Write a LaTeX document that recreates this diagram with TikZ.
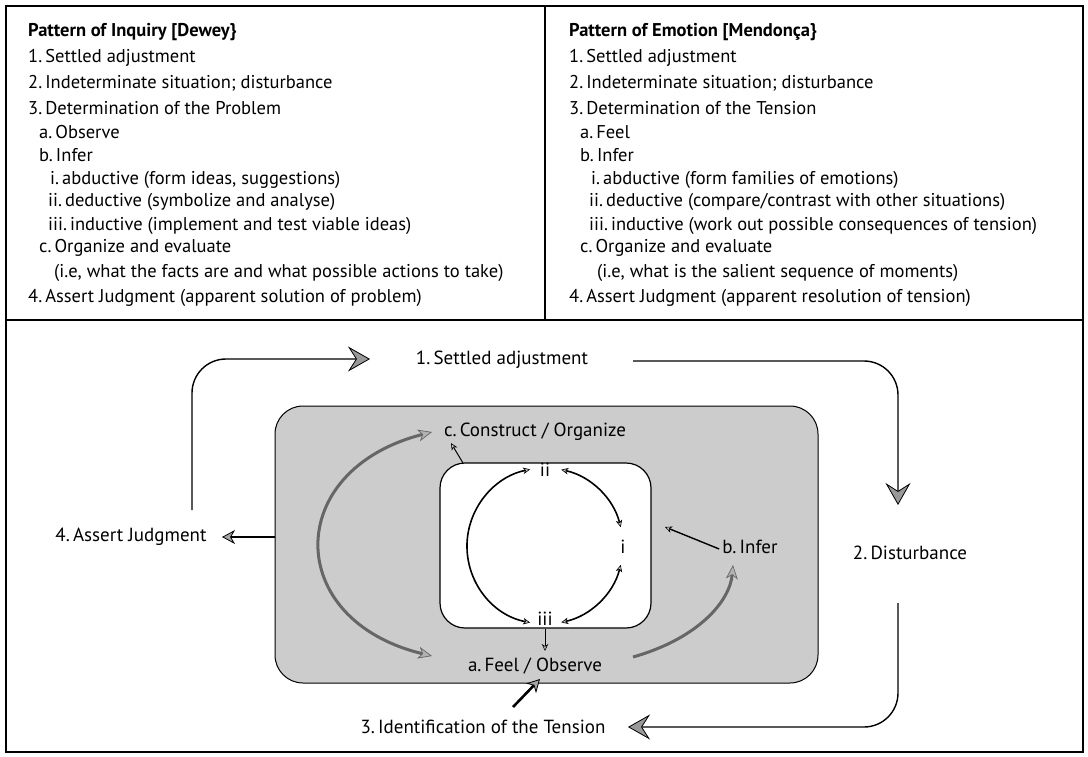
\documentclass[tikz,border=0pt]{standalone}
\usepackage{fontspec}
\setmainfont{PT Sans}
\usetikzlibrary{arrows.meta}
\begin{document}
\begin{tikzpicture}[x=1pt,y=-1pt,
  txt/.style={font=\fontsize{19}{22}\selectfont, inner sep=0pt},
  lt/.style={font=\fontsize{18.5}{22}\selectfont, inner sep=0pt, anchor=west},
  bt/.style={lt, font=\fontsize{18.5}{22}\selectfont\bfseries},
  frameline/.style={line width=1.2pt},
  loopline/.style={line width=1.4pt, rounded corners=34pt},
  bighead/.style={-{Stealth[length=22pt,width=25pt,inset=8pt,fill=black!40,line width=0.8pt]}},
  midhead/.style={-{Stealth[length=13pt,width=14pt,inset=4pt,fill=black!35,line width=0.8pt]}},
  smallboth/.style={{Stealth[length=7pt,width=6.5pt,inset=2pt,fill=black!25,line width=0.6pt]}-{Stealth[length=7pt,width=6.5pt,inset=2pt,fill=black!25,line width=0.6pt]}},
  smallend/.style={-{Stealth[length=7pt,width=6.5pt,inset=2pt,fill=black!25,line width=0.6pt]}},
  grayboth/.style={{Stealth[length=14pt,width=12pt,inset=4pt,fill=black!30,line width=0.7pt]}-{Stealth[length=14pt,width=12pt,inset=4pt,fill=black!30,line width=0.7pt]}},
  grayend/.style={-{Stealth[length=14pt,width=12pt,inset=4pt,fill=black!30,line width=0.7pt]}},
  grayarc/.style={line width=3pt, draw=black!60},
  shaded/.style={draw, line width=1pt, fill=black!20, rounded corners=28pt},
  whitebox/.style={draw, line width=1.2pt, fill=white, rounded corners=25pt}
]
\useasboundingbox (0,0) rectangle (1088,756);
% frame
\draw[frameline] (6,6) rectangle (1083,752);
\draw[frameline] (6,320) -- (1083,320);
\draw[frameline] (545,6) -- (545,320);

% left panel
\node[bt] (l0) at (28,32) {Pattern of Inquiry [Dewey\}};
\node[lt] (l1) at (28,58) {1.\,Settled adjustment};
\node[lt] (l2) at (28,83) {2.\,Indeterminate situation; disturbance};
\node[lt] (l3) at (28,108) {3.\,Determination of the Problem};
\node[lt] (l4) at (39,132) {a.\,Observe};
\node[lt] (l5) at (39,155) {b.\,Infer};
\node[lt] (l6) at (50,180) {i.\,abductive (form ideas, suggestions)};
\node[lt] (l7) at (48,202) {ii.\,deductive (symbolize and analyse)};
\node[lt] (l8) at (48,226) {iii.\,inductive (implement and test viable ideas)};
\node[lt] (l9) at (39,248) {c.\,Organize and evaluate};
\node[lt] (l10) at (54,273) {(i.e, what the facts are and what possible actions to take)};
\node[lt] (l11) at (28,298) {4.\,Assert Judgment (apparent solution of problem)};

% right panel
\node[bt] (r0) at (569,32) {Pattern of Emotion [Mendonça\}};
\node[lt] (r1) at (569,58) {1.\,Settled adjustment};
\node[lt] (r2) at (569,83) {2.\,Indeterminate situation; disturbance};
\node[lt] (r3) at (569,108) {3.\,Determination of the Tension};
\node[lt] (r4) at (580,132) {a.\,Feel};
\node[lt] (r5) at (580,155) {b.\,Infer};
\node[lt] (r6) at (591,180) {i.\,abductive (form families of emotions)};
\node[lt] (r7) at (589,202) {ii.\,deductive (compare/contrast with other situations)};
\node[lt] (r8) at (589,226) {iii.\,inductive (work out possible consequences of tension)};
\node[lt] (r9) at (580,248) {c.\,Organize and evaluate};
\node[lt] (r10) at (597,273) {(i.e, what is the salient sequence of moments)};
\node[lt] (r11) at (569,298) {4.\,Assert Judgment (apparent resolution of tension)};

% diagram boxes
\node[shaded, minimum width=543pt, minimum height=277pt] (outer) at (546.5,544.5) {};
\node[whitebox, minimum width=211pt, minimum height=165pt] (inner) at (545.5,545.5) {};

% labels
\node[txt] (set) at (502,360) {1.\,Settled adjustment};
\node[txt] (dist) at (910,553) {2.\,Disturbance};
\node[txt] (ident) at (483,727) {3.\,Identification of the Tension};
\node[txt] (assert) at (131,537) {4.\,Assert Judgment};
\node[txt] (cons) at (535,432) {c.\,Construct / Organize};
\node[txt] (feel) at (535,666) {a.\,Feel / Observe};
\node[txt] (infer) at (750,547) {b.\,Infer};
\node[txt] (ii) at (545,470) {ii};
\node[txt] (i) at (623,547) {i};
\node[txt] (iii) at (545,619) {iii};

% outer loop
\coordinate (tl) at (192,510);
\coordinate (tlend) at (370,359);
\coordinate (trstart) at (633,361);
\coordinate (trend) at (898,505);
\coordinate (brstart) at (898,603);
\coordinate (brend) at (628,727);
\draw[loopline, bighead] (tl) |- (tlend);
\draw[loopline, bighead] (trstart) -| (trend);
\draw[loopline, bighead] (brstart) |- (brend);

% assert arrow
\coordinate (aw) at (outer.west |- assert);
\coordinate (ae) at (222,537);
\draw[line width=2.6pt, midhead] (aw) -- (ae);

% identification to feel
\coordinate (idt) at (513,707);
\coordinate (fb) at (540,679);
\draw[line width=2.6pt, midhead] (idt) -- (fb);

% inner circle arcs
\coordinate (C) at (545,546);
\draw[line width=1.6pt, smallboth] (C) ++(101:78) arc[start angle=101, end angle=259, radius=78];
\draw[line width=1.6pt, smallboth] (C) ++(-78:78) arc[start angle=-78, end angle=-14, radius=78];
\draw[line width=1.6pt, smallboth] (C) ++(14:78) arc[start angle=14, end angle=78, radius=78];

% small arrows
\coordinate (icorner) at (463,463);
\coordinate (cl) at (451,443);
\draw[line width=1pt, smallend] (icorner) -- (cl);
\coordinate (fa) at (545,651);
\draw[line width=1pt, smallend] (545,629) -- (fa);
\coordinate (ir) at (665,527);
\draw[line width=1.4pt, smallend] ([xshift=-3pt,yshift=-2pt]infer.west) -- (ir);

% big gray arcs
\coordinate (la) at (432,656);
\coordinate (lb) at (432,432);
\draw[grayarc, grayboth] (la) .. controls (283,620) and (283,470) .. (lb);
\coordinate (ra) at (633,657);
\coordinate (rb) at (733,565);
\draw[grayarc, grayend] (ra) .. controls (700,638) and (730,600) .. (rb);
\end{tikzpicture}
\end{document}
